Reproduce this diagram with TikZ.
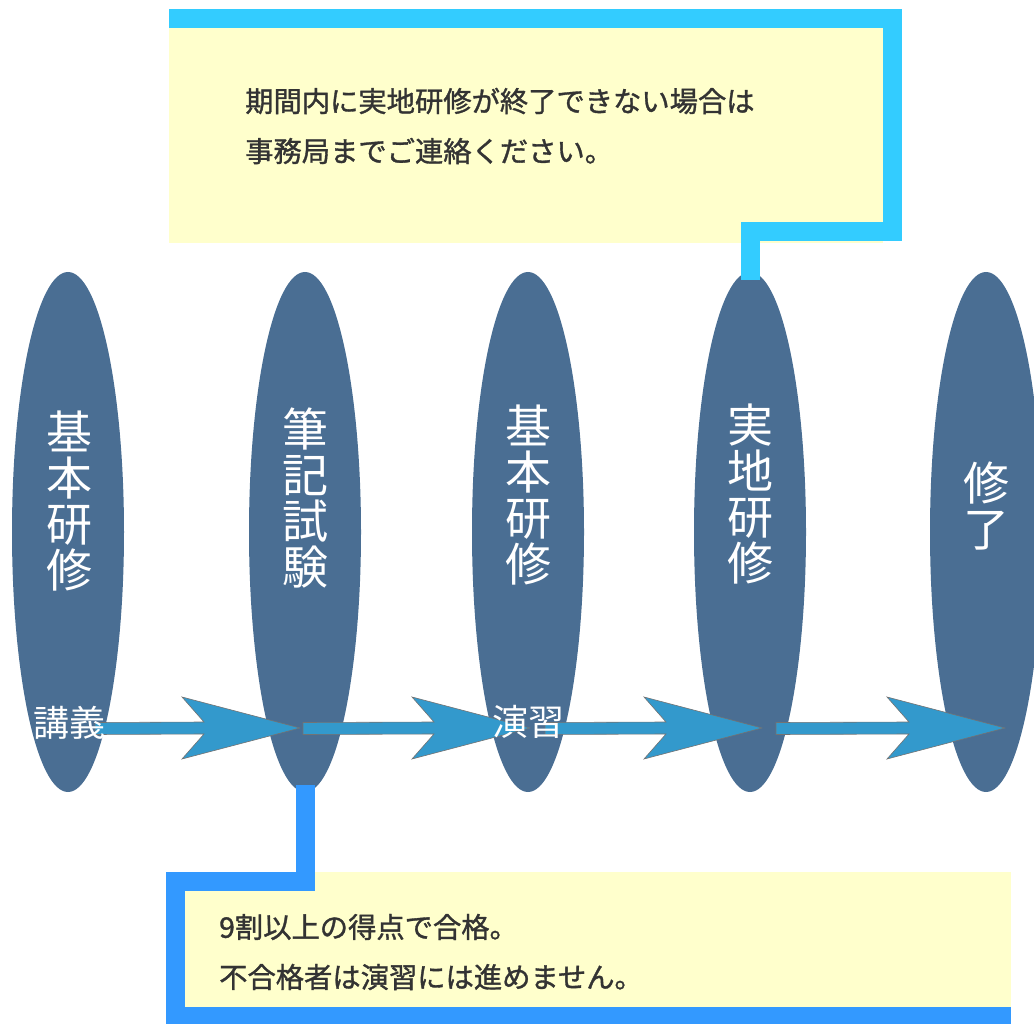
\documentclass[tikz,border=0pt]{standalone}
\usepackage{fontspec}
\setmainfont{Noto Sans CJK JP}
\newfontfamily\notefont[FakeBold=1.2]{Noto Sans CJK JP}
\usetikzlibrary{shapes.geometric,calc}
\definecolor{ell}{HTML}{4A6E93}
\definecolor{arr}{HTML}{3399CC}
\definecolor{note}{HTML}{FFFFCC}
\definecolor{cyanb}{HTML}{33CCFF}
\definecolor{blueb}{HTML}{3399FF}
\definecolor{txt}{HTML}{333333}
\newcommand\flowarrow[2]{%
  \filldraw[flowarrowstyle] ($(#1)+(0,-6)$) -- ($(#2)+(-96,-6)$) -- ($(#2)+(-118,-31)$) -- (#2)
    -- ($(#2)+(-118,31)$) -- ($(#2)+(-96,6)$) -- ($(#1)+(0,6)$) -- cycle;}
\begin{document}
\begin{tikzpicture}[x=1pt,y=-1pt,
  stage/.style={ellipse, fill=ell, minimum width=112pt, minimum height=520pt, inner sep=0pt},
  vlabel/.style={text=white, font=\fontsize{46}{46}\selectfont, align=center, inner sep=0pt},
  hlabel/.style={text=white, font=\fontsize{36}{40}\selectfont, inner sep=0pt},
  notetext/.style={text=txt, font=\notefont\fontsize{28.3}{50}\selectfont, align=left, anchor=west, inner sep=0pt},
  notebox/.style={fill=note, draw=none, inner sep=0pt, anchor=north west},
  frameline/.style={line width=19pt},
  flowarrowstyle/.style={fill=arr, draw=black!55, line width=0.6pt, line join=miter}]
\useasboundingbox (0,0) rectangle (1034,1024);
% note boxes
\node[notebox, minimum width=714pt, minimum height=215pt] (n1) at (169,28) {};
\node[notebox, minimum width=827pt, minimum height=136pt] (n2) at (184,872) {};
% stages
\node[stage] (e1) at (68,532) {};
\node[stage] (e2) at (305,532) {};
\node[stage] (e3) at (528,532) {};
\node[stage] (e4) at (750,532) {};
\node[stage] (e5) at (986,532) {};
\node[vlabel] (t1) at (69,501) {基\\本\\研\\修};
\node[vlabel] (t2) at (305,498) {筆\\記\\試\\験};
\node[vlabel] (t3) at (528,495) {基\\本\\研\\修};
\node[vlabel] (t4) at (750,494) {実\\地\\研\\修};
\node[vlabel] (t5) at (986,506) {修\\了};
% frames
\draw[cyanb, frameline] (169,18.5) -| (892.5,232) -| ($(e4.north)+(0,8)$);
\draw[blueb, frameline] ($(e2.south)+(0,-7)$) |- (175,881.5) |- (1011,1016.5);
% note texts
\node[notetext] (nt1) at (245,126) {期間内に実地研修が終了できない場合は\\事務局までご連絡ください。};
\node[notetext] (nt2) at (219,952) {9割以上の得点で合格。\\不合格者は演習には進めません。};
% arrows
\coordinate (a1s) at (95,728.5);  \coordinate (a1t) at (300,728);
\coordinate (a2s) at (303,728.5); \coordinate (a2t) at (530,728);
\coordinate (a3s) at (545,728.5); \coordinate (a3t) at (762,728);
\coordinate (a4s) at (776,728.5); \coordinate (a4t) at (1005,728);
\flowarrow{a1s}{a1t}
\flowarrow{a2s}{a2t}
\flowarrow{a3s}{a3t}
\flowarrow{a4s}{a4t}
\node[hlabel] (l1) at (70,723) {講義};
\node[hlabel] (l2) at (528,722) {演習};
\end{tikzpicture}
\end{document}
